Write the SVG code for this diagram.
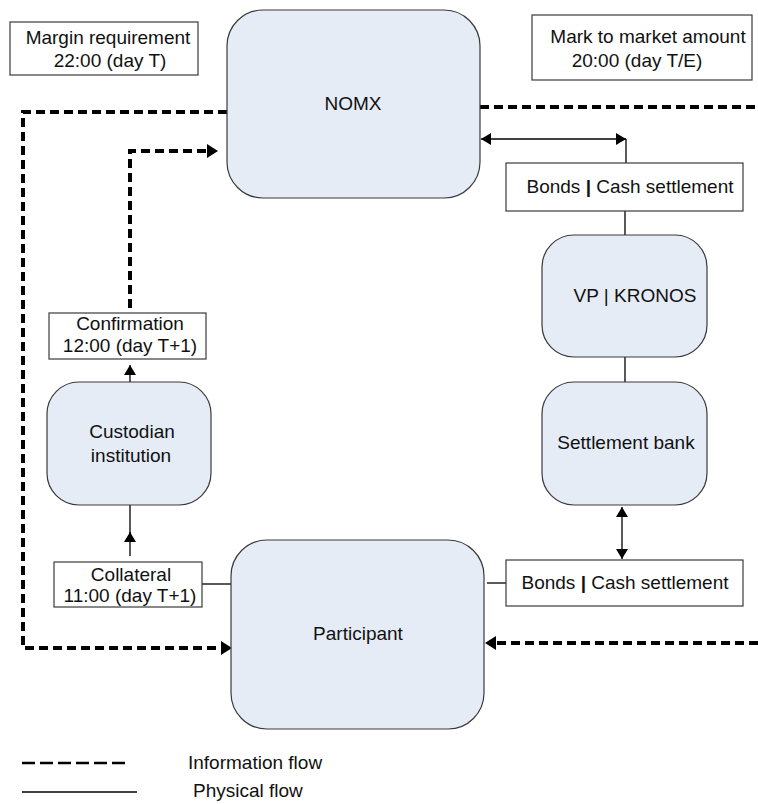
<svg xmlns="http://www.w3.org/2000/svg" width="758" height="804" viewBox="0 0 758 804">
<style>
.node{fill:#e6ecf6;stroke:#3a3a3a;stroke-width:1.2}
.box{fill:#ffffff;stroke:#3a3a3a;stroke-width:1.2}
.t{font-family:"Liberation Sans",Arial,sans-serif;font-size:19px;fill:#111;text-anchor:middle}
.tl{font-family:"Liberation Sans",Arial,sans-serif;font-size:19px;fill:#111}
.info{fill:none;stroke:#000;stroke-width:4;stroke-dasharray:9 5}
.phys{fill:none;stroke:#000;stroke-width:1.3}
</style>
<defs>
<marker id="dah" markerUnits="userSpaceOnUse" viewBox="0 0 11 14" refX="3" refY="7" markerWidth="11" markerHeight="14" orient="auto">
<path d="M0,0 L11,7 L0,14 z" fill="#000"/>
</marker>
<marker id="ah" markerUnits="userSpaceOnUse" viewBox="0 0 10 12" refX="10" refY="6" markerWidth="10" markerHeight="12" orient="auto-start-reverse">
<path d="M0,0 L10,6 L0,12 z" fill="#000"/>
</marker>
</defs>

<g id="connectors">
<path class="info" d="M227,112 H23 V648 H224" marker-end="url(#dah)"/>
<path class="info" d="M130,308 V151 H210" marker-end="url(#dah)"/>
<path class="info" d="M480,107 H758"/>
<path class="info" d="M758,643 H493" marker-end="url(#dah)"/>
<path class="phys" d="M481,139 H626" marker-start="url(#ah)" marker-end="url(#ah)"/>
<path class="phys" d="M626,139 V163"/>
<path class="phys" d="M625,211 V235"/>
<path class="phys" d="M625,357 V382"/>
<path class="phys" d="M622,507 V559" marker-start="url(#ah)" marker-end="url(#ah)"/>
<path class="phys" d="M487,583 H506"/>
<path class="phys" d="M202,584 H231"/>
<path class="phys" d="M130,556 V532" marker-end="url(#ah)"/>
<path class="phys" d="M130,540 V505"/>
<path class="phys" d="M130,382 V365" marker-end="url(#ah)"/>
</g>

<g id="margin-requirement">
<rect class="box" x="10" y="22" width="188" height="53"/>
<text class="t" x="108" y="44">Margin requirement</text>
<text class="t" x="110" y="67">22:00 (day T)</text>
</g>

<g id="mark-to-market">
<rect class="box" x="532" y="15" width="220" height="65"/>
<text class="t" x="648" y="43">Mark to market amount</text>
<text class="t" x="637" y="67">20:00 (day T/E)</text>
</g>

<g id="nomx">
<rect class="node" x="227" y="10" width="253" height="188" rx="36"/>
<text class="t" x="353" y="110">NOMX</text>
</g>

<g id="bonds-cash-top">
<rect class="box" x="506" y="163" width="237" height="48"/>
<text class="t" x="630" y="193">Bonds <tspan font-weight="bold">|</tspan> Cash settlement</text>
</g>

<g id="vp-kronos">
<rect class="node" x="542" y="235" width="165" height="122" rx="32"/>
<text class="t" x="635" y="302">VP | KRONOS</text>
</g>

<g id="settlement-bank">
<rect class="node" x="542" y="382" width="165" height="123" rx="32"/>
<text class="t" x="626" y="449">Settlement bank</text>
</g>

<g id="bonds-cash-bottom">
<rect class="box" x="506" y="560" width="237" height="46"/>
<text class="t" x="625" y="589">Bonds <tspan font-weight="bold">|</tspan> Cash settlement</text>
</g>

<g id="confirmation">
<rect class="box" x="49" y="313" width="157" height="46"/>
<text class="t" x="130" y="330">Confirmation</text>
<text class="t" x="130" y="352">12:00 (day T+1)</text>
</g>

<g id="custodian">
<rect class="node" x="47" y="382" width="164" height="123" rx="32"/>
<text class="t" x="132" y="438">Custodian</text>
<text class="t" x="131" y="462">institution</text>
</g>

<g id="collateral">
<rect class="box" x="54" y="562" width="148" height="45"/>
<text class="t" x="131" y="581">Collateral</text>
<text class="t" x="130" y="602">11:00 (day T+1)</text>
</g>

<g id="participant">
<rect class="node" x="231" y="540" width="253" height="189" rx="36"/>
<text class="t" x="358" y="640">Participant</text>
</g>

<g id="legend">
<path d="M22,763 H130" fill="none" stroke="#000" stroke-width="2.7" stroke-dasharray="13 5"/>
<path d="M22,792 H137" fill="none" stroke="#000" stroke-width="1.3"/>
<text class="tl" x="188" y="769">Information flow</text>
<text class="tl" x="193" y="797">Physical flow</text>
</g>
</svg>
